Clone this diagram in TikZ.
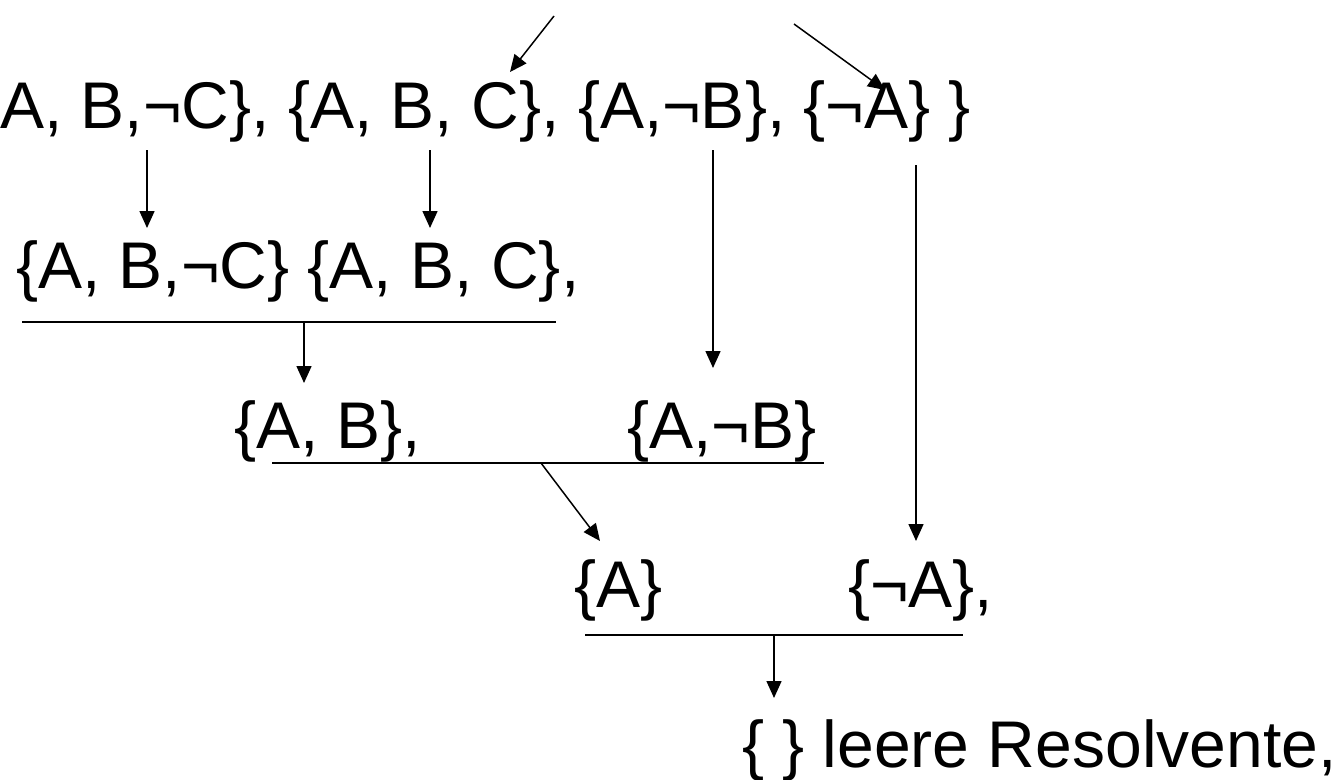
\documentclass[tikz,border=0pt]{standalone}
\usepackage{fontspec}
\setmainfont{Liberation Sans}
\usetikzlibrary{arrows.meta}
\begin{document}
\begin{tikzpicture}[x=1pt,y=-1pt,
    every node/.style={anchor=base west,inner sep=0pt,font=\fontsize{66}{79}\selectfont},
    >={Triangle[length=17pt,width=15pt]}]
      \useasboundingbox (0,0) rectangle (1337,779);
      \draw
        (0,128) node (r1){A, B,¬C\}, \{A, B, C\}, \{A,¬B\}, \{¬A\} \}}
        (16,288) node (r2){\{A, B,¬C\} \{A, B, C\},}
        (234,448) node (r3a){\{A, B\},}
        (627,448) node (r3b){\{A,¬B\}}
        (574,607) node (r4a){\{A\}}
        (848,607) node (r4b){\{¬A\},}
        (742,767) node (r5){\{ \} leere Resolvente,};
      \path
        (554,16) coordinate (t1) (510,72) coordinate (h1)
        (794,24) coordinate (t2) (885,90) coordinate (h2)
        (147,150) coordinate (s1) (147,228) coordinate (e1)
        (430,150) coordinate (s2) (430,228) coordinate (e2)
        (713,150) coordinate (s3) (713,368) coordinate (e3)
        (916,165) coordinate (s4) (916,541) coordinate (e4)
        (22,322) coordinate (b1l) (556,322) coordinate (b1r)
        (304,322) coordinate (b1) (304,383) coordinate (e5)
        (272,463) coordinate (b2l) (824,463) coordinate (b2r)
        (541,463) coordinate (b2) (600,541) coordinate (e6)
        (585,635) coordinate (b3l) (963,635) coordinate (b3r)
        (774,635) coordinate (b3) (774,698) coordinate (e7);
      \begin{scope}[line width=2pt]
        \draw (b1l) to (b1r);
        \draw (b2l) to (b2r);
        \draw (b3l) to (b3r);
      \end{scope}
      \begin{scope}[->,line width=1.5pt]
        \draw (t1) to (h1);
        \draw (t2) to (h2);
        \draw (s1) to (e1);
        \draw (s2) to (e2);
        \draw (s3) to (e3);
        \draw (s4) to (e4);
        \draw (b1) to (e5);
        \draw (b2) to (e6);
        \draw (b3) to (e7);
      \end{scope}
    \end{tikzpicture}
\end{document}
